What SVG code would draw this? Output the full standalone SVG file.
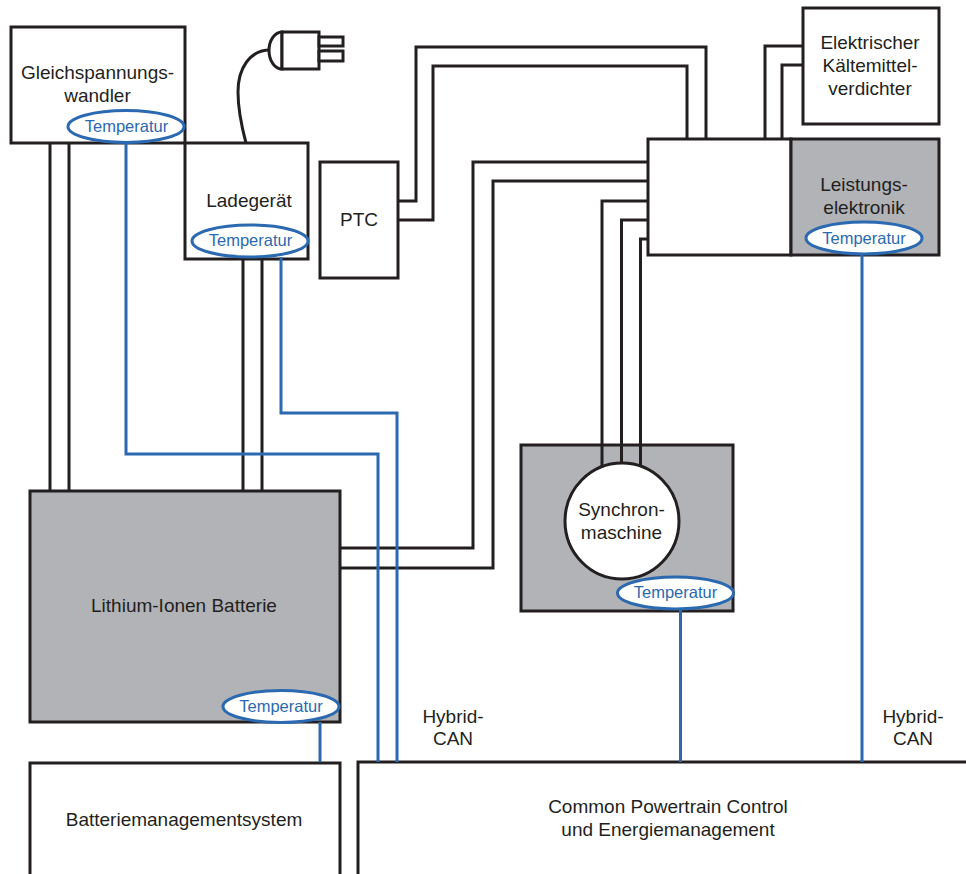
<svg xmlns="http://www.w3.org/2000/svg" width="966" height="874" viewBox="0 0 966 874">
<style>
.box{fill:#fff;stroke:#231f20;stroke-width:3}
.grey{fill:#b1b3b6;stroke:#231f20;stroke-width:3}
.wire{fill:none;stroke:#231f20;stroke-width:3}
.sig{fill:none;stroke:#2b69b0;stroke-width:3}
.sensor{fill:#fff;stroke:#2b69b0;stroke-width:3}
text{font-family:"Liberation Sans",Arial,sans-serif;font-size:19px;fill:#231f20;text-anchor:middle}
.t{font-size:16.500px;fill:#2b69b0}
</style>
<rect width="966" height="874" fill="#fff"/>
<g id="node-gleich"><rect class="box" x="11" y="27" width="174" height="116"/><text x="97.500" y="79">Gleichspannungs-</text><text x="97.500" y="102">wandler</text></g>
<g id="node-lade"><rect class="box" x="185" y="143" width="123" height="116"/><text x="249" y="207">Ladegerät</text></g>
<g id="node-ptc"><rect class="box" x="320" y="162" width="78" height="116"/><text x="359" y="226">PTC</text></g>
<g id="node-kaelte"><rect class="box" x="803" y="8" width="136" height="116"/><text x="870" y="49">Elektrischer</text><text x="870" y="72">Kältemittel-</text><text x="870" y="95">verdichter</text></g>
<g id="node-inverter"><rect class="box" x="648" y="139" width="143" height="116"/></g>
<g id="node-leistung"><rect class="grey" x="791" y="139" width="148" height="116"/><text x="864" y="191">Leistungs-</text><text x="864" y="214">elektronik</text></g>
<g id="node-batterie"><rect class="grey" x="30" y="491" width="310" height="231"/><text x="184" y="612">Lithium-Ionen Batterie</text></g>
<g id="node-motor"><rect class="grey" x="521" y="445" width="212" height="166"/></g>
<g id="node-bms"><path class="box" d="M30,885V763H340V885"/><text x="184" y="826">Batteriemanagementsystem</text></g>
<g id="node-cpc"><path class="box" d="M358,885V762H980V885"/><text x="668" y="813">Common Powertrain Control</text><text x="668" y="836">und Energiemanagement</text></g>
<g id="connectors">
<path class="wire" d="M50,143V491M69,143V491M243,259V491M262,259V491"/>
<path class="wire" d="M398,201H416V47H706V139M398,220H433V66H687V139"/>
<path class="wire" d="M803,46H765V139M803,65H782V139"/>
<path class="wire" d="M340,548H473V162H648M340,568H493V181H648"/>
<path class="wire" d="M602,470V201H648M621.500,465V220H648M640.500,470V239H648"/>
<path class="wire" d="M270,50C250,50 238,68 238,92C238,110 242,128 246,143"/>
<path class="sig" d="M126,143V454H378V762M281,257V413H397V762M320,722V762M680.500,609V762M862,255V762"/>
</g>
<g id="node-plug"><path class="box" d="M282,32A13,18.500 0 0 0 282,69Z"/><rect class="box" x="282" y="32" width="37" height="37"/><rect class="box" x="319" y="37" width="24" height="9"/><rect class="box" x="319" y="51" width="24" height="10"/></g>
<g id="node-synchron"><ellipse class="box" cx="622" cy="521" rx="57" ry="58"/><text x="621.500" y="516">Synchron-</text><text x="621.500" y="539">maschine</text></g>
<g id="sensor-gleich"><ellipse class="sensor" cx="126" cy="126.500" rx="58" ry="16"/><text class="t" x="126.500" y="132">Temperatur</text></g>
<g id="sensor-lade"><ellipse class="sensor" cx="250" cy="241" rx="58" ry="16"/><text class="t" x="250.500" y="246">Temperatur</text></g>
<g id="sensor-leistung"><ellipse class="sensor" cx="864" cy="238" rx="58" ry="16"/><text class="t" x="864" y="244">Temperatur</text></g>
<g id="sensor-motor"><ellipse class="sensor" cx="675.500" cy="593" rx="58" ry="16"/><text class="t" x="675.500" y="598">Temperatur</text></g>
<g id="sensor-batterie"><ellipse class="sensor" cx="281" cy="706.500" rx="58" ry="16"/><text class="t" x="281" y="712">Temperatur</text></g>
<g id="labels"><text x="453" y="723">Hybrid-</text><text x="453" y="745">CAN</text><text x="913" y="723">Hybrid-</text><text x="913" y="745">CAN</text></g>
</svg>
